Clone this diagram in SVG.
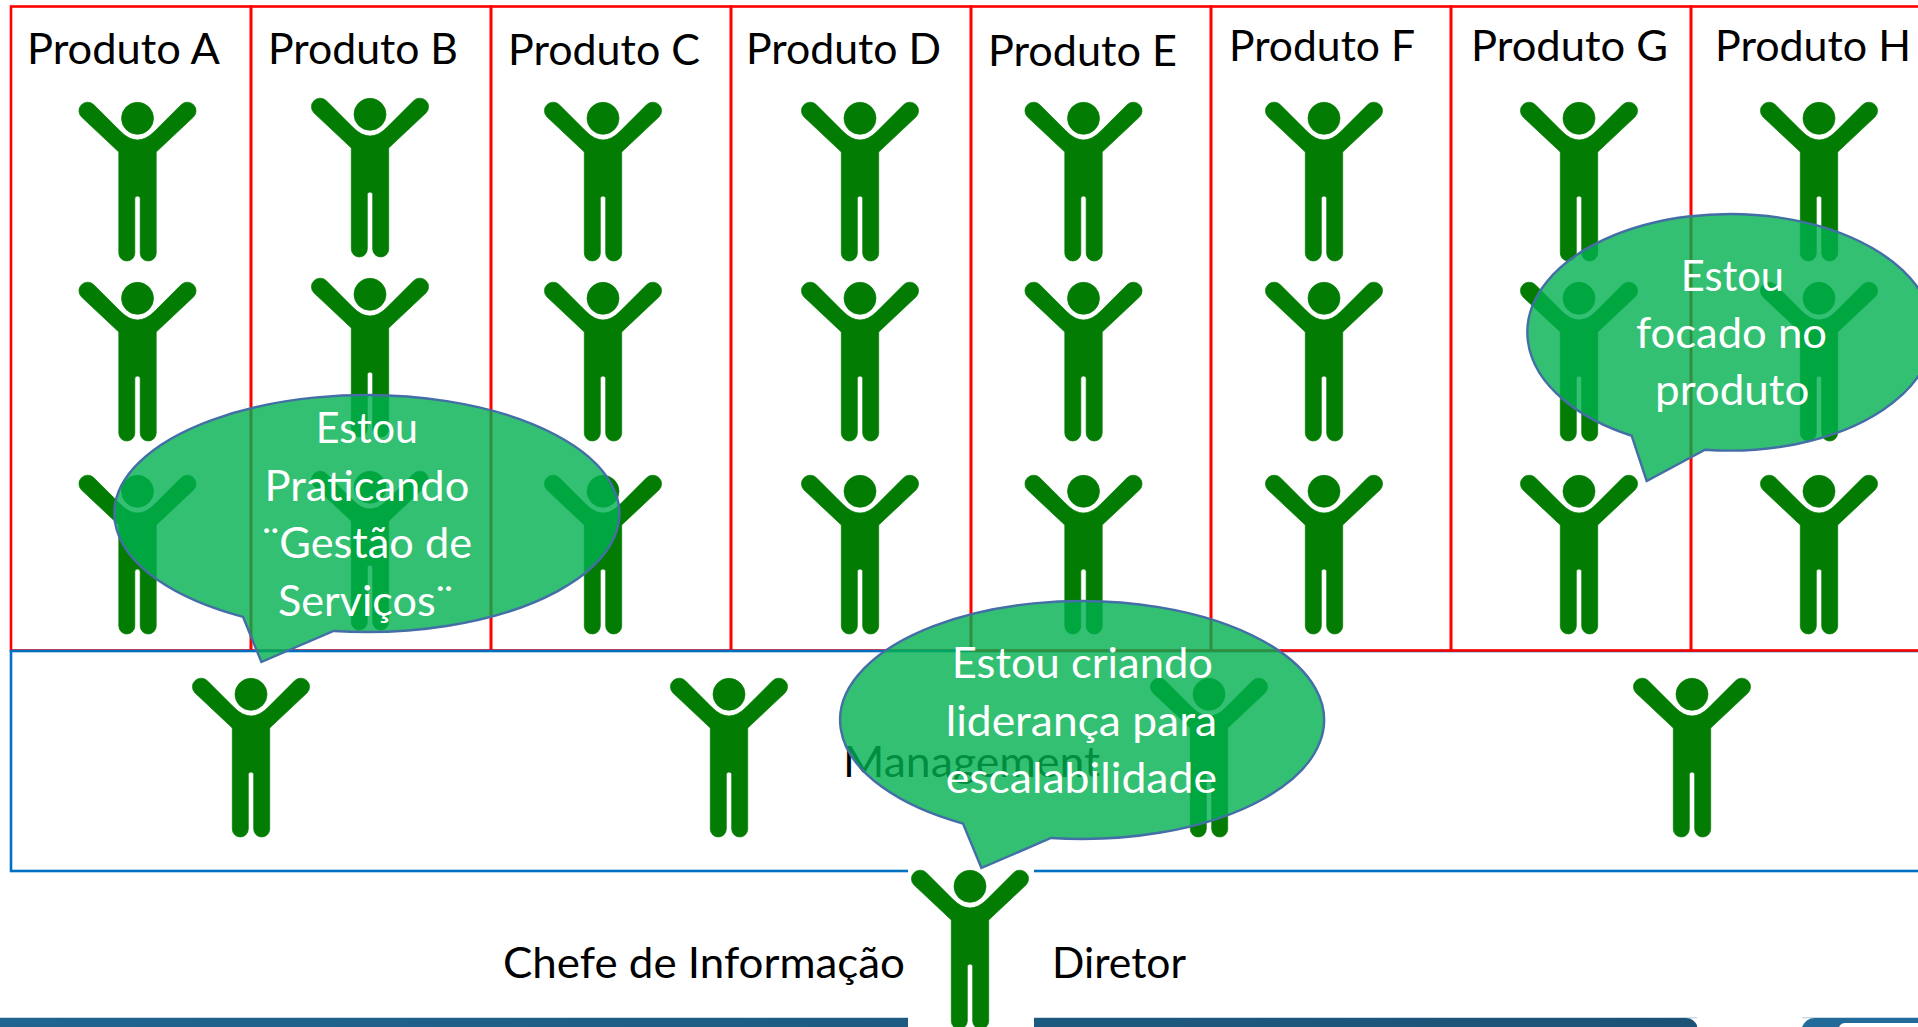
<svg xmlns="http://www.w3.org/2000/svg" xmlns:xlink="http://www.w3.org/1999/xlink" width="1918" height="1027" viewBox="0 0 1918 1027">
<style>
text{font-family:Lato,"Open Sans","Noto Sans",sans-serif;font-size:42px;fill:#000}
.w{fill:#fff}
.col{fill:none;stroke:#f00;stroke-width:2.6}
.mg{fill:none;stroke:#0070c0;stroke-width:2.6}
.b{fill:#00b050;fill-opacity:.8;stroke:#446ea6;stroke-width:2.4;stroke-linejoin:miter}
</style>
<defs>
<g id="p" fill="#037c03" stroke="#037c03" stroke-width=".7">
<circle cx="0" cy="16.3" r="16"/>
<path d="M-18.7 50L-56.15 14.85A8.7 8.7 0 0 1-43.85 2.55L-17.3 29.1Q0 46.9 17.3 29.1L43.85 2.55A8.7 8.7 0 0 1 56.15 14.85L18.7 50V151A8 8 0 0 1 2.7 151V96.7A2.7 2.7 0 0 0-2.7 96.7V151A8 8 0 0 1-18.7 151Z"/>
</g>
<linearGradient id="bar" gradientUnits="userSpaceOnUse" x1="0" y1="0" x2="1697" y2="0">
<stop offset="0" stop-color="#1f6590"/><stop offset="1" stop-color="#1c5275"/>
</linearGradient>
</defs>
<rect width="1918" height="1027" fill="#fff"/>
<g id="footer-bars">
<rect x="0" y="1017" width="1918" height="1.4" fill="#c9d8e2"/>
<path d="M0 1018H1686Q1694 1018 1698 1027H0Z" fill="url(#bar)"/>
<path d="M1918 1018H1815Q1806 1018 1802 1027H1918Z" fill="#216a99"/>
<path d="M1918 1023H1845Q1841 1023 1839 1027H1918Z" fill="#fff"/>
<rect x="1697" y="1017" width="105" height="10" fill="#fff"/>
</g>
<g id="col-a"><rect class="col" x="11" y="6.5" width="240" height="644"/></g>
<g id="col-b"><rect class="col" x="251" y="6.5" width="240" height="644"/></g>
<g id="col-c"><rect class="col" x="491" y="6.5" width="240" height="644"/></g>
<g id="col-d"><rect class="col" x="731" y="6.5" width="240" height="644"/></g>
<g id="management"><rect class="mg" x="11" y="651" width="1930" height="220"/>
<text x="843" y="777" textLength="257" lengthAdjust="spacingAndGlyphs">Management</text></g>
<g id="col-e"><rect class="col" x="971" y="6.5" width="240" height="644"/></g>
<g id="col-f"><rect class="col" x="1211" y="6.5" width="240" height="644"/></g>
<g id="col-g"><rect class="col" x="1451" y="6.5" width="240" height="644"/></g>
<g id="col-h"><rect class="col" x="1691" y="6.5" width="240" height="644"/></g>
<g id="labels">
<text x="27" y="64" textLength="193" lengthAdjust="spacingAndGlyphs">Produto A</text>
<text x="268" y="64" textLength="190" lengthAdjust="spacingAndGlyphs">Produto B</text>
<text x="508" y="65" textLength="192" lengthAdjust="spacingAndGlyphs">Produto C</text>
<text x="746" y="64" textLength="195" lengthAdjust="spacingAndGlyphs">Produto D</text>
<text x="988" y="66" textLength="189" lengthAdjust="spacingAndGlyphs">Produto E</text>
<text x="1229" y="61" textLength="186" lengthAdjust="spacingAndGlyphs">Produto F</text>
<text x="1471" y="61" textLength="197" lengthAdjust="spacingAndGlyphs">Produto G</text>
<text x="1715" y="61" textLength="196" lengthAdjust="spacingAndGlyphs">Produto H</text>
</g>
<g id="figures-a"><use href="#p" x="137.5" y="102"/><use href="#p" x="137.5" y="282"/><use href="#p" x="137.5" y="475"/></g>
<g id="figures-b"><use href="#p" x="370" y="98"/><use href="#p" x="370" y="278"/><use href="#p" x="370" y="471"/></g>
<g id="figures-c"><use href="#p" x="603" y="102"/><use href="#p" x="603" y="282"/><use href="#p" x="603" y="475"/></g>
<g id="figures-d"><use href="#p" x="860" y="102"/><use href="#p" x="860" y="282"/><use href="#p" x="860" y="475"/></g>
<g id="figures-e"><use href="#p" x="1083.5" y="102"/><use href="#p" x="1083.5" y="282"/><use href="#p" x="1083.5" y="475"/></g>
<g id="figures-f"><use href="#p" x="1324" y="102"/><use href="#p" x="1324" y="282"/><use href="#p" x="1324" y="475"/></g>
<g id="figures-g"><use href="#p" x="1579" y="102"/><use href="#p" x="1579" y="282"/><use href="#p" x="1579" y="475"/></g>
<g id="figures-h"><use href="#p" x="1819" y="102"/><use href="#p" x="1819" y="282"/><use href="#p" x="1819" y="475"/></g>
<g id="figures-management"><use href="#p" x="251" y="678"/><use href="#p" x="729" y="678"/><use href="#p" x="1209" y="678"/><use href="#p" x="1692" y="678"/></g>
<g id="director">
<rect x="908" y="869" width="126" height="158" fill="#fff"/>
<use href="#p" x="970" y="870"/>
<text x="503" y="978" textLength="402" lengthAdjust="spacingAndGlyphs">Chefe de Informação</text>
<text x="1052" y="978" textLength="134" lengthAdjust="spacingAndGlyphs">Diretor</text>
</g>
<g id="bubble-servicos">
<path class="b" d="M243 616.8A252.5 118.5 0 1 1 333.6 631L261.4 662Z"/>
<text class="w" x="315.7" y="443.3" textLength="102.3" lengthAdjust="spacingAndGlyphs">Estou</text>
<text class="w" x="264.6" y="500.7" textLength="204.7" lengthAdjust="spacingAndGlyphs">Praticando</text>
<text class="w" x="262" y="558.3" textLength="210" lengthAdjust="spacingAndGlyphs">¨Gestão de</text>
<text class="w" x="278" y="615.7" textLength="175" lengthAdjust="spacingAndGlyphs">Serviços¨</text>
</g>
<g id="bubble-lideranca">
<path class="b" d="M963 823.6A242 119 0 1 1 1051 838.02L981.4 868Z"/>
<text class="w" x="951.8" y="678" textLength="261.2" lengthAdjust="spacingAndGlyphs">Estou criando</text>
<text class="w" x="945.7" y="735.7" textLength="271.3" lengthAdjust="spacingAndGlyphs">liderança para</text>
<text class="w" x="945.7" y="793" textLength="271.3" lengthAdjust="spacingAndGlyphs">escalabilidade</text>
</g>
<g id="bubble-produto">
<path class="b" d="M1631.7 435.75A202.7 118.3 0 1 1 1705 449.7L1646.7 481Z"/>
<text class="w" x="1680.7" y="290.7" textLength="103.3" lengthAdjust="spacingAndGlyphs">Estou</text>
<text class="w" x="1636" y="348.3" textLength="191" lengthAdjust="spacingAndGlyphs">focado no</text>
<text class="w" x="1655" y="405" textLength="154.3" lengthAdjust="spacingAndGlyphs">produto</text>
</g>
</svg>
